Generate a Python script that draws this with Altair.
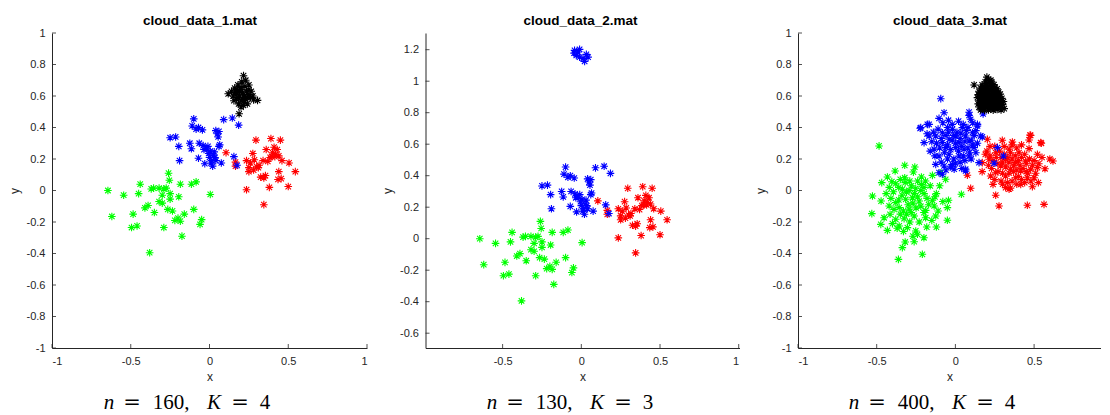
import altair as alt
import pandas as pd

# ---------------- data ----------------
# Panel 1 (cloud_data_1.mat)
p1_green_x = [-0.645, -0.62, -0.545, -0.485, -0.495, -0.46, -0.45, -0.44, -0.41, -0.39,
              -0.37, -0.355, -0.35, -0.38, -0.32, -0.32, -0.30, -0.30, -0.29, -0.275,
              -0.265, -0.26, -0.255, -0.25, -0.25, -0.235, -0.22, -0.20, -0.185, -0.195,
              -0.185, -0.175, -0.16, -0.115, -0.10, -0.085, -0.06, -0.05, 0.005, -0.29]
p1_green_y = [0.0, -0.165, -0.03, -0.15, -0.235, -0.225, -0.02, 0.04, -0.11, -0.095,
              0.01, 0.015, -0.14, -0.395, -0.07, 0.015, -0.03, -0.08, -0.235, 0.015,
              -0.12, 0.11, 0.065, -0.02, -0.055, -0.13, -0.19, -0.175, -0.195, -0.04,
              0.04, -0.29, -0.15, 0.04, -0.12, 0.055, -0.215, -0.185, -0.025, 0.01]

p1_blue_x = [-0.10, -0.11, -0.07, -0.045, -0.25, -0.215, -0.195, -0.19, -0.125, -0.115,
             -0.065, -0.07, -0.04, -0.03, -0.02, -0.005, 0.0, 0.015, 0.02, 0.035,
             0.04, 0.06, 0.055, 0.06, 0.075, 0.09, 0.145, 0.185, 0.155, 0.175,
             0.03, -0.01, -0.035, 0.005, 0.025, 0.04, 0.01, 0.05, -0.085, 0.065]
p1_blue_y = [0.455, 0.41, 0.40, 0.385, 0.335, 0.34, 0.28, 0.19, 0.30, 0.265,
             0.30, 0.205, 0.285, 0.17, 0.265, 0.235, 0.21, 0.19, 0.155, 0.21,
             0.38, 0.375, 0.34, 0.28, 0.175, 0.45, 0.46, 0.415, 0.215, 0.16,
             0.245, 0.28, 0.26, 0.25, 0.22, 0.19, 0.175, 0.36, 0.39, 0.29]

p1_red_x = [0.105, 0.165, 0.165, 0.235, 0.235, 0.25, 0.25, 0.275, 0.295, 0.285,
            0.30, 0.315, 0.325, 0.34, 0.345, 0.355, 0.36, 0.38, 0.39, 0.385,
            0.41, 0.42, 0.435, 0.44, 0.45, 0.46, 0.50, 0.505, 0.545, 0.40,
            0.43, 0.44, 0.415, 0.395, 0.37, 0.28, 0.31, 0.345, 0.26, 0.455]
p1_red_y = [0.24, 0.18, 0.155, 0.005, 0.19, 0.145, 0.12, 0.235, 0.32, 0.195,
            0.15, 0.16, 0.085, 0.19, -0.09, 0.095, 0.26, 0.02, 0.33, 0.21,
            0.275, 0.23, 0.07, 0.12, 0.32, 0.19, 0.025, 0.175, 0.12, 0.24,
            0.26, 0.22, 0.215, 0.215, 0.185, 0.13, 0.145, 0.08, 0.175, 0.075]

p1_black_x = [0.216, 0.305, 0.188, 0.119, 0.14, 0.15, 0.16, 0.17, 0.175, 0.18,
              0.185, 0.19, 0.195, 0.20, 0.205, 0.21, 0.215, 0.22, 0.225, 0.23,
              0.235, 0.24, 0.245, 0.25, 0.26, 0.265, 0.275, 0.155, 0.165, 0.20,
              0.21, 0.19, 0.23, 0.25, 0.28, 0.17, 0.20, 0.22, 0.24, 0.185]
p1_black_y = [0.729, 0.572, 0.487, 0.614, 0.63, 0.60, 0.65, 0.58, 0.62, 0.67,
              0.55, 0.60, 0.64, 0.57, 0.69, 0.62, 0.54, 0.60, 0.66, 0.58,
              0.63, 0.55, 0.61, 0.67, 0.59, 0.63, 0.60, 0.57, 0.62, 0.53,
              0.58, 0.63, 0.70, 0.64, 0.575, 0.64, 0.655, 0.56, 0.59, 0.59]

# Panel 2 (cloud_data_2.mat): same green/red/blue clouds plus a small far cloud
p2_top_x = [-0.043, -0.011, -0.032, -0.011, 0.032, 0.043, 0.021, -0.046, -0.021, 0.011]
p2_top_y = [1.196, 1.202, 1.164, 1.153, 1.17, 1.153, 1.126, 1.178, 1.185, 1.143]

# Panel 3 (cloud_data_3.mat)
p3_green_x = [-0.322, -0.258, -0.267, -0.383, -0.432, -0.468, -0.404, -0.379, -0.322, -0.319,
              -0.216, -0.146, -0.062, -0.093, -0.216, -0.394, -0.527, -0.472, -0.531, -0.337,
              -0.294, -0.252, -0.199, -0.121, 0.038, -0.044, -0.146, -0.379, -0.316, -0.273,
              -0.23, -0.421, -0.357, -0.294, -0.189, -0.135, -0.051, -0.415, -0.453, -0.379,
              -0.326, -0.262, -0.189, -0.125, -0.051, -0.474, -0.432, -0.357, -0.305, -0.252,
              -0.241, -0.182, -0.121, -0.319, -0.337, -0.262, -0.21, -0.362, -0.485,
              -0.36, -0.34, -0.31, -0.28, -0.26, -0.24, -0.22, -0.20, -0.18, -0.17,
              -0.30, -0.27, -0.25, -0.22, -0.20, -0.33, -0.31, -0.28, -0.36, -0.39,
              -0.41, -0.44, -0.35, -0.29, -0.24, -0.19, -0.16, -0.13, -0.11, -0.15,
              -0.23, -0.29, -0.35, -0.40, -0.27, -0.20, -0.33, -0.10, -0.08, -0.42, -0.37]
p3_green_y = [0.16, 0.149, 0.117, 0.124, 0.086, 0.05, 0.056, 0.043, 0.081, 0.05,
              0.086, 0.096, 0.071, 0.113, 0.039, -0.008, -0.035, -0.067, -0.147, 0.008,
              0.001, 0.014, -0.02, -0.02, -0.024, -0.062, -0.062, -0.077, -0.056, -0.046,
              -0.067, -0.098, -0.109, -0.119, -0.126, -0.098, -0.109, -0.151, -0.173, -0.183,
              -0.179, -0.162, -0.173, -0.162, -0.189, -0.215, -0.253, -0.225, -0.236, -0.257,
              -0.278, -0.232, -0.232, -0.327, -0.363, -0.325, -0.405, -0.437, 0.283,
              0.02, -0.03, -0.01, 0.03, -0.02, -0.04, 0.0, 0.02, -0.05, -0.09,
              -0.09, -0.08, -0.11, -0.10, -0.14, -0.13, -0.15, -0.14, -0.06, -0.12,
              -0.05, -0.02, 0.07, 0.06, 0.06, 0.06, 0.03, -0.04, -0.13, -0.19,
              -0.20, -0.20, -0.15, -0.21, -0.29, -0.30, -0.26, 0.03, -0.07, 0.02, -0.24]

p3_blue_x = [-0.093, -0.072, -0.104, -0.044, -0.22, -0.167, -0.167, -0.199, 0.087, 0.097,
             0.14, 0.161, -0.125, -0.083, -0.019, 0.044, 0.002, 0.065, 0.108, -0.04,
             -0.083, 0.023, 0.087, -0.135, -0.062, 0.002, 0.055, 0.119, -0.104, -0.04,
             0.023, 0.087, -0.125, -0.072, -0.019, -0.083, -0.104, -0.008, 0.15, 0.246,
             0.267, 0.065, -0.224, 0.065, 0.305, 0.171, 0.14, 0.087, 0.176, -0.178,
             -0.12, -0.10, -0.09, -0.07, -0.06, -0.05, -0.03, -0.02, -0.01, 0.0,
             0.01, 0.02, 0.03, 0.04, 0.05, 0.06, 0.07, 0.08, 0.09, 0.10,
             0.11, 0.12, 0.13, 0.14, -0.15, -0.14, -0.11, -0.08, -0.05, -0.02,
             0.02, 0.05, 0.08, -0.13, -0.09, -0.05, -0.03, 0.0, 0.03, 0.06,
             0.10, -0.16, -0.18, 0.04, -0.06, 0.11, 0.13, -0.01, 0.035, -0.045]
p3_blue_y = [0.583, 0.494, 0.458, 0.446, 0.399, 0.42, 0.346, 0.304, 0.477, 0.452,
             0.41, 0.346, 0.346, 0.367, 0.389, 0.399, 0.346, 0.346, 0.367, 0.325,
             0.304, 0.304, 0.314, 0.262, 0.272, 0.272, 0.262, 0.272, 0.219, 0.23,
             0.219, 0.219, 0.166, 0.156, 0.166, 0.103, 0.113, 0.135, 0.177, 0.173,
             0.272, 0.135, 0.395, 0.124, 0.219, 0.34, 0.42, 0.497, 0.486, 0.42,
             0.30, 0.27, 0.33, 0.24, 0.35, 0.29, 0.26, 0.32, 0.20, 0.30,
             0.37, 0.25, 0.33, 0.28, 0.22, 0.31, 0.38, 0.27, 0.24, 0.32,
             0.29, 0.35, 0.24, 0.30, 0.31, 0.37, 0.39, 0.43, 0.40, 0.42,
             0.44, 0.42, 0.40, 0.22, 0.18, 0.20, 0.15, 0.17, 0.18, 0.19,
             0.20, 0.25, 0.36, 0.14, 0.13, 0.43, 0.38, 0.35, 0.365, 0.37]

p3_red_x = [0.203, 0.298, 0.362, 0.478, 0.468, 0.546, 0.62, 0.569, 0.521, 0.468,
            0.214, 0.171, 0.256, 0.341, 0.404, 0.319, 0.383, 0.446, 0.288, 0.351,
            0.415, 0.478, 0.521, 0.224, 0.256, 0.319, 0.383, 0.457, 0.5, 0.239,
            0.319, 0.341, 0.415, 0.489, 0.527, 0.256, 0.277, 0.457, 0.563, 0.097,
            0.076, 0.542, 0.474, 0.60,
            0.20, 0.22, 0.24, 0.26, 0.27, 0.28, 0.29, 0.30, 0.31, 0.32,
            0.33, 0.34, 0.35, 0.36, 0.37, 0.38, 0.39, 0.40, 0.41, 0.42,
            0.43, 0.44, 0.45, 0.46, 0.47, 0.49, 0.50, 0.51, 0.53, 0.55,
            0.23, 0.25, 0.27, 0.29, 0.30, 0.33, 0.34, 0.36, 0.37, 0.39,
            0.40, 0.42, 0.44, 0.45, 0.48, 0.36, 0.39, 0.42, 0.31, 0.25,
            0.22, 0.19, 0.17, 0.21, 0.35, 0.30]
p3_red_y = [0.325, 0.319, 0.308, 0.35, 0.321, 0.3, 0.187, 0.138, 0.23, 0.266,
            0.198, 0.177, 0.24, 0.262, 0.24, 0.198, 0.177, 0.187, 0.156, 0.135,
            0.124, 0.135, 0.145, 0.092, 0.113, 0.092, 0.081, 0.081, 0.081, 0.039,
            0.018, 0.008, 0.039, 0.024, 0.05, -0.03, -0.098, -0.094, -0.088, 0.014,
            0.097, 0.304, 0.352, 0.20,
            0.25, 0.22, 0.19, 0.21, 0.17, 0.25, 0.21, 0.18, 0.23, 0.15,
            0.21, 0.18, 0.24, 0.20, 0.16, 0.22, 0.13, 0.19, 0.16, 0.21,
            0.14, 0.23, 0.17, 0.11, 0.20, 0.16, 0.19, 0.11, 0.17, 0.21,
            0.14, 0.07, 0.12, 0.06, 0.11, 0.05, 0.11, 0.06, 0.12, 0.04,
            0.09, 0.07, 0.05, 0.12, 0.06, 0.29, 0.27, 0.29, 0.28, 0.28,
            0.28, 0.23, 0.12, 0.16, 0.015, 0.04]

p3_black_x = [0.200, 0.210, 0.190, 0.215, 0.230, 0.170, 0.195, 0.220, 0.245, 0.119,
              0.160, 0.180, 0.205, 0.228, 0.250, 0.265, 0.150, 0.172, 0.192, 0.213,
              0.235, 0.255, 0.275, 0.145, 0.165, 0.185, 0.205, 0.225, 0.245, 0.265,
              0.285, 0.140, 0.160, 0.180, 0.200, 0.220, 0.240, 0.260, 0.280, 0.295,
              0.150, 0.170, 0.190, 0.210, 0.230, 0.250, 0.270, 0.290, 0.305, 0.145,
              0.165, 0.185, 0.205, 0.225, 0.245, 0.265, 0.285, 0.300, 0.150, 0.175,
              0.195, 0.215, 0.235, 0.255, 0.275, 0.295, 0.160, 0.185, 0.210, 0.240,
              0.265, 0.290, 0.310, 0.175, 0.200, 0.225, 0.240, 0.158, 0.182, 0.198,
              0.218, 0.242, 0.262, 0.155, 0.175, 0.195, 0.215, 0.235, 0.255, 0.275,
              0.160, 0.180, 0.200, 0.220, 0.240, 0.260, 0.280, 0.170, 0.225, 0.250]
p3_black_y = [0.720, 0.705, 0.690, 0.685, 0.690, 0.670, 0.665, 0.670, 0.672, 0.670,
              0.650, 0.648, 0.652, 0.648, 0.655, 0.645, 0.630, 0.628, 0.635, 0.630,
              0.628, 0.634, 0.625, 0.610, 0.612, 0.608, 0.615, 0.610, 0.612, 0.608,
              0.612, 0.590, 0.592, 0.588, 0.595, 0.590, 0.592, 0.588, 0.594, 0.585,
              0.570, 0.572, 0.568, 0.575, 0.570, 0.572, 0.568, 0.572, 0.565, 0.550,
              0.552, 0.548, 0.555, 0.550, 0.552, 0.548, 0.552, 0.545, 0.530, 0.532,
              0.528, 0.535, 0.530, 0.532, 0.528, 0.530, 0.512, 0.508, 0.512, 0.510,
              0.515, 0.512, 0.520, 0.660, 0.680, 0.700, 0.660, 0.620, 0.625, 0.622,
              0.640, 0.640, 0.620, 0.600, 0.600, 0.580, 0.600, 0.580, 0.600, 0.580,
              0.560, 0.560, 0.540, 0.560, 0.540, 0.560, 0.540, 0.520, 0.520, 0.520]

titles = ["cloud_data_1.mat", "cloud_data_2.mat", "cloud_data_3.mat"]
n_values = ["160", "130", "400"]
k_values = ["4", "3", "4"]

x_ticks_full = [-1, -0.5, 0, 0.5, 1]
x_ticks_p2 = [-0.5, 0, 0.5, 1]
x_ticks_p3 = [-1, -0.5, 0, 0.5]
y_ticks_full = [-1, -0.8, -0.6, -0.4, -0.2, 0, 0.2, 0.4, 0.6, 0.8, 1]
y_ticks_p2 = [-0.6, -0.4, -0.2, 0, 0.2, 0.4, 0.6, 0.8, 1, 1.2]

color_domain = ["red", "green", "blue", "black"]
color_range = ["#ff0000", "#00ff00", "#0000ff", "#000000"]

STAR = "M-1,0L1,0M0,-1L0,1M-0.72,-0.72L0.72,0.72M-0.72,0.72L0.72,-0.72"
AX = "#262626"
SANS = "Liberation Sans"
SERIF = "Liberation Serif"


def frame(groups):
    rows = []
    for name, xs, ys in groups:
        for a, b in zip(xs, ys):
            rows.append({"x": a, "y": b, "c": name})
    return pd.DataFrame(rows)


def panel(df, xdom, ydom, xticks, yticks, title, n, k, w, h, cap_left, title_x):
    xs = alt.Scale(domain=xdom, nice=False, zero=False)
    ys = alt.Scale(domain=ydom, nice=False, zero=False)
    xax = alt.Axis(values=xticks, title="x", labelExpr="'' + datum.value")
    yax = alt.Axis(values=yticks, title="y", labelExpr="'' + datum.value")
    pts = alt.Chart(df).mark_point(
        shape=STAR, filled=False, strokeWidth=1.1, size=58, opacity=1
    ).encode(
        x=alt.X("x:Q", scale=xs, axis=xax),
        y=alt.Y("y:Q", scale=ys, axis=yax),
        color=alt.Color("c:N", scale=alt.Scale(domain=color_domain, range=color_range),
                        legend=None),
    )
    ytk = alt.Chart(pd.DataFrame({"y": yticks})).mark_rule(
        color=AX, strokeWidth=0.8).encode(
        y=alt.Y("y:Q", scale=ys, axis=yax), x=alt.value(0), x2=alt.value(4))
    xtk = alt.Chart(pd.DataFrame({"x": xticks})).mark_rule(
        color=AX, strokeWidth=0.8).encode(
        x=alt.X("x:Q", scale=xs, axis=xax), y=alt.value(h), y2=alt.value(h - 4))

    one = pd.DataFrame({"k": [0]})
    ttl = alt.Chart(one).mark_text(
        align="center", baseline="alphabetic", font=SANS, fontSize=13.5,
        fontWeight="bold", color="#000000").encode(
        x=alt.value(title_x), y=alt.value(-8), text=alt.value(title))

    # centre of each caption piece, relative to the caption start
    pieces = [("n", "italic", SERIF, 6), ("=", "normal", "DejaVu Serif", 29),
              (n + ",", "normal", SERIF, 68), ("K", "italic", SERIF, 111),
              ("=", "normal", "DejaVu Serif", 137), (k, "normal", SERIF, 162)]
    caps = []
    for txt, style, fnt, off in pieces:
        caps.append(alt.Chart(one).mark_text(
            align="center", baseline="alphabetic", font=fnt, fontSize=21,
            fontStyle=style, color="#000000").encode(
            x=alt.value(cap_left + off), y=alt.value(h + 61), text=alt.value(txt)))

    return alt.layer(pts, ytk, xtk, ttl, *caps).properties(width=w, height=h)


df1 = frame([("red", p1_red_x, p1_red_y), ("green", p1_green_x, p1_green_y),
             ("blue", p1_blue_x, p1_blue_y), ("black", p1_black_x, p1_black_y)])
df2 = frame([("red", p1_red_x, p1_red_y), ("green", p1_green_x, p1_green_y),
             ("blue", p1_blue_x + p2_top_x, p1_blue_y + p2_top_y)])
df3 = frame([("red", p3_red_x, p3_red_y), ("green", p3_green_x, p3_green_y),
             ("blue", p3_blue_x, p3_blue_y), ("black", p3_black_x, p3_black_y)])

c1 = panel(df1, [-1, 1], [-1, 1], x_ticks_full, y_ticks_full, titles[0],
           n_values[0], k_values[0], 315, 315, 51, 148)
c2 = panel(df2, [-0.99, 1.005], [-0.694, 1.306], x_ticks_p2, y_ticks_p2, titles[1],
           n_values[1], k_values[1], 314, 315, 60.5, 155)
c3 = panel(df3, [-1, 0.925], [-1, 1], x_ticks_p3, y_ticks_full, titles[2],
           n_values[2], k_values[2], 303, 315, 50, 152)

chart = alt.hconcat(c1, c2, c3, spacing=58.5, bounds="flush").properties(
    padding={"left": 0, "top": 6, "right": 0, "bottom": 0}
).configure_view(strokeWidth=0).configure_axis(
    grid=False, ticks=False, tickSize=0, domainColor=AX, domainWidth=1,
    labelFont=SANS, labelFontSize=11, labelColor=AX, labelPadding=7,
    titleFont=SANS, titleFontSize=12, titleFontWeight="normal", titleColor=AX,
    titlePadding=5
)

chart.save("out.html", embed_options={"renderer": "svg", "actions": False})
